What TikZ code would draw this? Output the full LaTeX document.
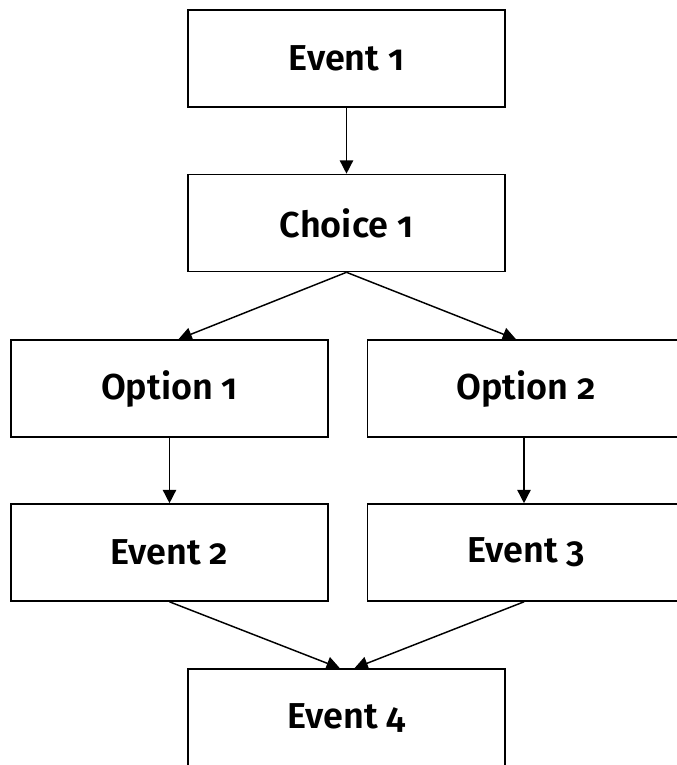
\documentclass[tikz,border=0pt]{standalone}
\usepackage{fontspec}
\setmainfont{Fira Sans}[Numbers=OldStyle, BoldFont={Fira Sans SemiBold}]
\usetikzlibrary{arrows.meta}
\begin{document}
\begin{tikzpicture}[x=0.75pt,y=-0.75pt,
  box/.style={draw, line width=1.2pt, minimum width=237.75pt, minimum height=72.75pt,
    inner sep=0pt, font=\fontsize{27}{30}\selectfont\bfseries},
  arr/.style={line width=1.1pt, -{Triangle[length=10pt,width=10pt]}}]
\useasboundingbox (0,0) rectangle (676,765);
\node[box] (e1) at (346.5,58.5) {Event 1};
\node[box] (c1) at (346.5,223) {Choice 1};
\node[box] (o1) at (169.5,388.5) {Option 1};
\node[box] (o2) at (526,388.5) {Option 2};
\node[box] (e2) at (169.5,552.5) {Event 2};
\node[box] (e3) at (526,552.5) {Event 3};
\node[box] (e4) at (346.5,717.5) {Event 4};
\draw[arr] (e1.south) -- (c1.north);
\draw[arr] (c1.south) -- ([xshift=6.75pt]o1.north);
\draw[arr] (c1.south) -- ([xshift=-7.5pt]o2.north);
\draw[arr] (o1.south) -- (e2.north);
\draw[arr] ([xshift=-1.5pt]o2.south) -- ([xshift=-1.5pt]e3.north);
\draw[arr] (e2.south) -- ([xshift=-5pt]e4.north);
\draw[arr] ([xshift=-1.5pt]e3.south) -- ([xshift=6pt]e4.north);
\end{tikzpicture}
\end{document}
